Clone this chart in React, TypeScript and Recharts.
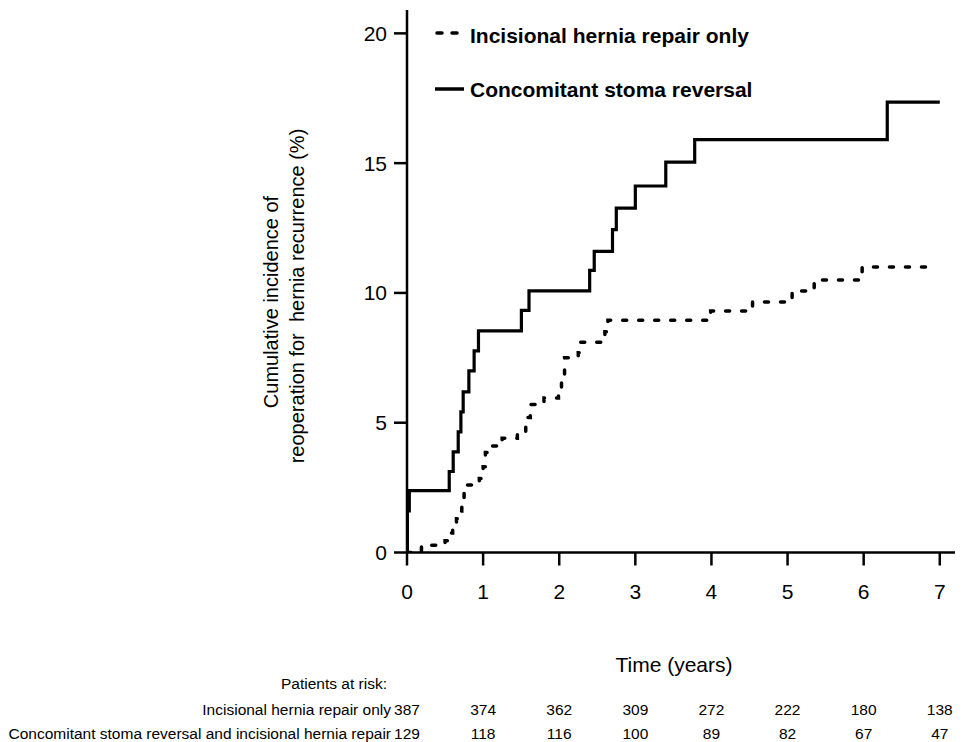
import React from 'react';
import { LineChart, Line, XAxis, YAxis, Legend, Label } from 'recharts';

const FONT = '"Liberation Sans", Arial, Helvetica, sans-serif';

const seriesNames = ['Incisional hernia repair only', 'Concomitant stoma reversal'];
const riskHeader = 'Patients at risk:';
const riskRowLabels = ['Incisional hernia repair only', 'Concomitant stoma reversal and incisional hernia repair'];
const xAxisTitle = 'Time (years)';
const yAxisTitleLines = ['Cumulative incidence of', 'reoperation for  hernia recurrence (%)'];

// Incisional hernia repair only (dashed)
const repairTimes = [0, 0.19, 0.5, 0.56, 0.6, 0.65, 0.69, 0.72, 0.75, 0.79, 0.95, 1.0, 1.03, 1.08, 1.25, 1.45, 1.56, 1.62, 1.8, 1.99, 2.03, 2.07, 2.25, 2.28, 2.6, 2.64, 3.99, 4.54, 5.06, 5.35, 5.98, 6.87];
const repairValues = [0, 0.28, 0.45, 0.75, 1.0, 1.3, 1.6, 1.9, 2.3, 2.6, 2.85, 3.3, 3.85, 4.1, 4.4, 4.65, 5.2, 5.7, 5.95, 6.3, 6.8, 7.5, 7.7, 8.1, 8.5, 8.95, 9.3, 9.65, 10.07, 10.5, 11.0, 11.0];

// Concomitant stoma reversal (solid)
const stomaTimes = [0, 0.005, 0.03, 0.555, 0.607, 0.673, 0.708, 0.738, 0.813, 0.882, 0.939, 1.503, 1.603, 2.4, 2.46, 2.7, 2.75, 3.0, 3.4, 3.78, 6.31, 7.0];
const stomaValues = [0, 1.6, 2.38, 3.12, 3.88, 4.65, 5.42, 6.19, 7.0, 7.77, 8.54, 9.33, 10.08, 10.87, 11.6, 12.44, 13.27, 14.12, 15.04, 15.91, 17.35, 17.35];

const yearTicks = [0, 1, 2, 3, 4, 5, 6, 7];
const yTicks = [0, 5, 10, 15, 20];
const atRiskRepair = [387, 374, 362, 309, 272, 222, 180, 138];
const atRiskStoma = [129, 118, 116, 100, 89, 82, 67, 47];

const repairData = repairTimes.map((t, i) => ({ t, v: repairValues[i] }));
const stomaData = stomaTimes.map((t, i) => ({ t, v: stomaValues[i] }));

const X_DOMAIN: [number, number] = [0, 7.2];
const Y_DOMAIN: [number, number] = [0, 20.9];

function LegendContent() {
  return (
    <svg width={400} height={110} style={{ display: 'block', overflow: 'visible' }}>
      <line x1={17} x2={38} y1={33} y2={33} stroke="#000" strokeWidth={3.5} strokeDasharray="5 10" strokeLinecap="round" />
      <text x={50} y={42.5} fontFamily={FONT} fontWeight="bold" fontSize={21} fill="#000">{seriesNames[0]}</text>
      <line x1={15} x2={44} y1={89} y2={89} stroke="#000" strokeWidth={3.5} />
      <text x={50} y={96.5} fontFamily={FONT} fontWeight="bold" fontSize={21} fill="#000">{seriesNames[1]}</text>
    </svg>
  );
}

const axisStroke = { stroke: '#000', strokeWidth: 2.5 };
const tickFont = { fontSize: 21, fill: '#000', fontFamily: FONT };
const riskFont = { fontSize: 15.5, fill: '#000', fontFamily: FONT };

export default function App() {
  return (
    <div style={{ position: 'absolute', left: 0, top: 0, width: 968, height: 742, overflow: 'hidden', background: '#fff' }}>
      <LineChart width={968} height={745} margin={{ top: 10, right: 13, bottom: 0, left: 0 }}>
        <XAxis
          xAxisId="main"
          dataKey="t"
          type="number"
          domain={X_DOMAIN}
          ticks={yearTicks}
          interval={0}
          allowDataOverflow
          height={144.5}
          tickSize={13}
          tickMargin={18.5}
          axisLine={axisStroke}
          tickLine={axisStroke}
          tick={tickFont}
        >
          <Label value={xAxisTitle} position="insideBottom" offset={25.5} dx={-7} fontSize={21} fill="#000" fontFamily={FONT} />
        </XAxis>
        <XAxis
          xAxisId="risk1"
          dataKey="t"
          type="number"
          domain={X_DOMAIN}
          ticks={yearTicks}
          interval={0}
          allowDataOverflow
          height={24}
          axisLine={false}
          tickLine={false}
          tickSize={0}
          tickMargin={6.5}
          tick={riskFont}
          tickFormatter={(v: number) => String(atRiskRepair[yearTicks.indexOf(v)])}
        >
          <Label value={riskRowLabels[0]} position="left" offset={16} fontSize={15.5} fill="#000" fontFamily={FONT} />
        </XAxis>
        <XAxis
          xAxisId="risk2"
          dataKey="t"
          type="number"
          domain={X_DOMAIN}
          ticks={yearTicks}
          interval={0}
          allowDataOverflow
          height={24}
          axisLine={false}
          tickLine={false}
          tickSize={0}
          tickMargin={6.5}
          tick={riskFont}
          tickFormatter={(v: number) => String(atRiskStoma[yearTicks.indexOf(v)])}
        >
          <Label value={riskRowLabels[1]} position="left" offset={16} fontSize={15.5} fill="#000" fontFamily={FONT} />
        </XAxis>
        <YAxis
          type="number"
          domain={Y_DOMAIN}
          ticks={yTicks}
          interval={0}
          allowDataOverflow
          width={407}
          tickSize={13}
          tickMargin={7}
          axisLine={axisStroke}
          tickLine={axisStroke}
          tick={tickFont}
        />
        <Legend
          layout="vertical"
          align="center"
          verticalAlign="middle"
          content={LegendContent}
          wrapperStyle={{ top: 0, left: 420, width: 400, height: 110 }}
        />
        <Line
          xAxisId="main"
          data={repairData}
          dataKey="v"
          name={seriesNames[0]}
          type="stepAfter"
          stroke="#000"
          strokeWidth={3.5}
          strokeDasharray="4 12"
          strokeLinecap="round"
          dot={false}
          activeDot={false}
          isAnimationActive={false}
        />
        <Line
          xAxisId="main"
          data={stomaData}
          dataKey="v"
          name={seriesNames[1]}
          type="stepAfter"
          stroke="#000"
          strokeWidth={3.2}
          dot={false}
          activeDot={false}
          isAnimationActive={false}
        />
      </LineChart>
      <svg width={968} height={742} style={{ position: 'absolute', left: 0, top: 0, pointerEvents: 'none' }}>
        <text transform="translate(278,302) rotate(-90)" textAnchor="middle" fontFamily={FONT} fontSize={20} fill="#000">{yAxisTitleLines[0]}</text>
        <text transform="translate(303.5,296) rotate(-90)" textAnchor="middle" fontFamily={FONT} fontSize={20} fill="#000" style={{ whiteSpace: 'pre' }}>{yAxisTitleLines[1]}</text>
        <text x={387} y={688.5} textAnchor="end" fontFamily={FONT} fontSize={15.5} fill="#000">{riskHeader}</text>
      </svg>
    </div>
  );
}
